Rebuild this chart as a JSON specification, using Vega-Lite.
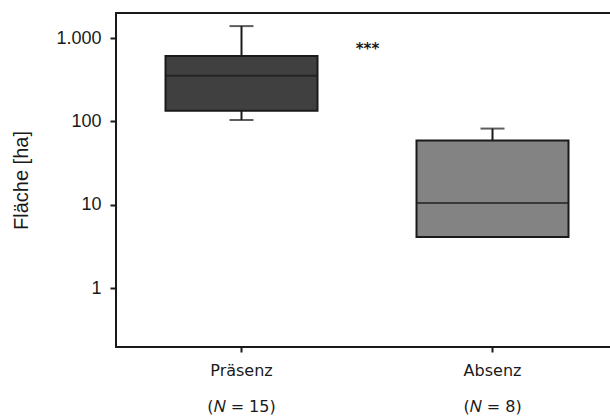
{
  "$schema": "https://vega.github.io/schema/vega-lite/v6.json",
  "width": 502,
  "height": 334,
  "autosize": "none",
  "padding": {"left": 116, "top": 13, "right": 0, "bottom": 69},
  "background": "white",
  "config": {
    "view": {"stroke": "#1a1a1a", "strokeWidth": 2},
    "axis": {"grid": false, "domain": false, "tickColor": "#1a1a1a", "labelColor": "#1a1a1a", "titleColor": "#1a1a1a"}
  },
  "datasets": {
    "boxes": [
      {"group": "Präsenz", "lower": 104, "q1": 134, "median": 353, "q3": 608, "upper": 1393},
      {"group": "Absenz", "lower": 4.1, "q1": 4.1, "median": 10.5, "q3": 59, "upper": 82}
    ],
    "notes": [
      {"group": "Präsenz", "value": 740, "label": "***"}
    ]
  },
  "data": {"name": "boxes"},
  "encoding": {
    "x": {
      "field": "group",
      "type": "nominal",
      "sort": ["Präsenz", "Absenz"],
      "scale": {"paddingInner": 0, "paddingOuter": 0},
      "axis": {
        "title": null,
        "labelAngle": 0,
        "labelFont": "DejaVu Sans",
        "labelFontSize": 16,
        "labelLineHeight": 36,
        "labelPadding": 10,
        "tickSize": 5,
        "tickWidth": 2,
        "labelExpr": "datum.value == 'Präsenz' ? ['Präsenz', '(𝑁 = 15)'] : ['Absenz', '(𝑁 = 8)']"
      }
    }
  },
  "layer": [
    {
      "mark": {"type": "rule", "color": "#1a1a1a", "strokeWidth": 2},
      "encoding": {
        "y": {
          "field": "lower",
          "type": "quantitative",
          "scale": {"type": "log", "domain": [0.196, 2000], "nice": false, "zero": false},
          "axis": {
            "title": "Fläche [ha]",
            "titleFont": "Liberation Sans",
            "titleFontSize": 20,
            "titleFontWeight": "normal",
            "titlePadding": 24,
            "values": [1, 10, 100, 1000],
            "labelExpr": "datum.value >= 1000 ? '1.000' : toString(datum.value)",
            "labelFont": "Liberation Sans",
            "labelFontSize": 18,
            "labelPadding": 9,
            "tickSize": 6,
            "tickWidth": 2
          }
        },
        "y2": {"field": "upper"}
      }
    },
    {
      "mark": {"type": "tick", "color": "#1a1a1a", "size": 24, "thickness": 2},
      "encoding": {"y": {"field": "lower", "type": "quantitative"}}
    },
    {
      "mark": {"type": "tick", "color": "#1a1a1a", "size": 24, "thickness": 2},
      "encoding": {"y": {"field": "upper", "type": "quantitative"}}
    },
    {
      "mark": {"type": "bar", "size": 152, "stroke": "#1a1a1a", "strokeWidth": 2},
      "encoding": {
        "y": {"field": "q1", "type": "quantitative"},
        "y2": {"field": "q3"},
        "color": {
          "field": "group",
          "type": "nominal",
          "scale": {"domain": ["Präsenz", "Absenz"], "range": ["#404040", "#838383"]},
          "legend": null
        }
      }
    },
    {
      "mark": {"type": "tick", "color": "#1a1a1a", "size": 152, "thickness": 2},
      "encoding": {"y": {"field": "median", "type": "quantitative"}}
    },
    {
      "data": {"name": "notes"},
      "mark": {"type": "text", "font": "DejaVu Sans", "fontSize": 15, "fontWeight": "bold", "dx": 126, "baseline": "middle", "color": "#1a1a1a"},
      "encoding": {
        "y": {"field": "value", "type": "quantitative"},
        "text": {"field": "label"}
      }
    }
  ]
}
